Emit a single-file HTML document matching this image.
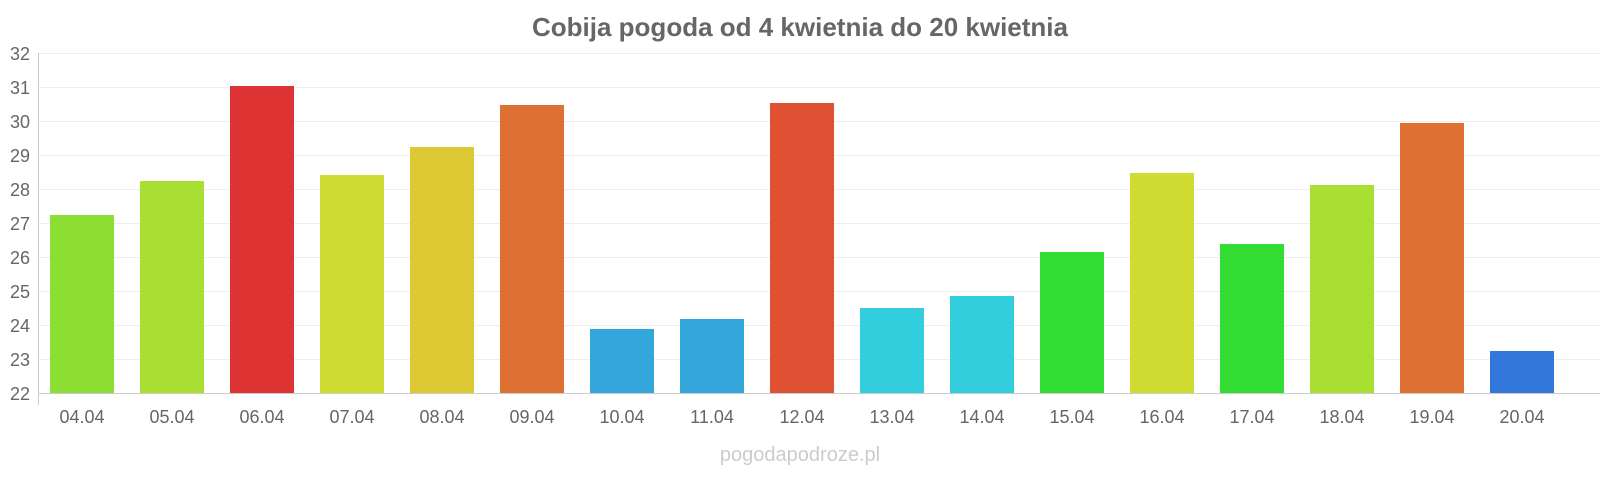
<!DOCTYPE html>
<html><head><meta charset="utf-8"><style>
body{margin:0;background:#fff;}
svg{display:block;font-family:"Liberation Sans",sans-serif;}
</style></head><body>
<svg width="1600" height="480" xmlns="http://www.w3.org/2000/svg">
<text x="800" y="36" text-anchor="middle" font-size="26" font-weight="bold" fill="#666">Cobija pogoda od 4 kwietnia do 20 kwietnia</text>
<g stroke="#eee" stroke-width="1">
<line x1="38" x2="1600" y1="53.5" y2="53.5"/><line x1="38" x2="1600" y1="87.5" y2="87.5"/>
<line x1="38" x2="1600" y1="121.5" y2="121.5"/><line x1="38" x2="1600" y1="155.5" y2="155.5"/>
<line x1="38" x2="1600" y1="189.5" y2="189.5"/><line x1="38" x2="1600" y1="223.5" y2="223.5"/>
<line x1="38" x2="1600" y1="257.5" y2="257.5"/><line x1="38" x2="1600" y1="291.5" y2="291.5"/>
<line x1="38" x2="1600" y1="325.5" y2="325.5"/><line x1="38" x2="1600" y1="359.5" y2="359.5"/>
</g>
<line x1="38.5" x2="38.5" y1="53" y2="405" stroke="#ccc"/>
<line x1="38" x2="1600" y1="393.5" y2="393.5" stroke="#ccc"/>
<g font-size="18" fill="#666" text-anchor="end">
<text x="30" y="60">32</text><text x="30" y="94">31</text><text x="30" y="128">30</text><text x="30" y="162">29</text><text x="30" y="196">28</text><text x="30" y="230">27</text><text x="30" y="264">26</text><text x="30" y="298">25</text><text x="30" y="332">24</text><text x="30" y="366">23</text><text x="30" y="400">22</text>
</g>
<g>
<rect x="50" y="215" width="64" height="178" fill="#8cde35"/>
<rect x="140" y="181" width="64" height="212" fill="#a9de33"/>
<rect x="230" y="86" width="64" height="307" fill="#dd3333"/>
<rect x="320" y="175" width="64" height="218" fill="#cfdd33"/>
<rect x="410" y="147" width="64" height="246" fill="#dcc933"/>
<rect x="500" y="105" width="64" height="288" fill="#de7033"/>
<rect x="590" y="329" width="64" height="64" fill="#33a7dc"/>
<rect x="680" y="319" width="64" height="74" fill="#33a7dc"/>
<rect x="770" y="103" width="64" height="290" fill="#de5133"/>
<rect x="860" y="308" width="64" height="85" fill="#33cedd"/>
<rect x="950" y="296" width="64" height="97" fill="#33cedd"/>
<rect x="1040" y="252" width="64" height="141" fill="#33dd33"/>
<rect x="1130" y="173" width="64" height="220" fill="#cfdd33"/>
<rect x="1220" y="244" width="64" height="149" fill="#33dd33"/>
<rect x="1310" y="185" width="64" height="208" fill="#a9de33"/>
<rect x="1400" y="123" width="64" height="270" fill="#de7033"/>
<rect x="1490" y="351" width="64" height="42" fill="#3377dd"/>
</g>
<g font-size="18" fill="#666" text-anchor="middle">
<text x="82" y="423">04.04</text><text x="172" y="423">05.04</text><text x="262" y="423">06.04</text><text x="352" y="423">07.04</text><text x="442" y="423">08.04</text><text x="532" y="423">09.04</text><text x="622" y="423">10.04</text><text x="712" y="423">11.04</text><text x="802" y="423">12.04</text><text x="892" y="423">13.04</text><text x="982" y="423">14.04</text><text x="1072" y="423">15.04</text><text x="1162" y="423">16.04</text><text x="1252" y="423">17.04</text><text x="1342" y="423">18.04</text><text x="1432" y="423">19.04</text><text x="1522" y="423">20.04</text>
</g>
<text x="800" y="461" text-anchor="middle" font-size="20" fill="#ccc">pogodapodroze.pl</text>
</svg>
</body></html>
